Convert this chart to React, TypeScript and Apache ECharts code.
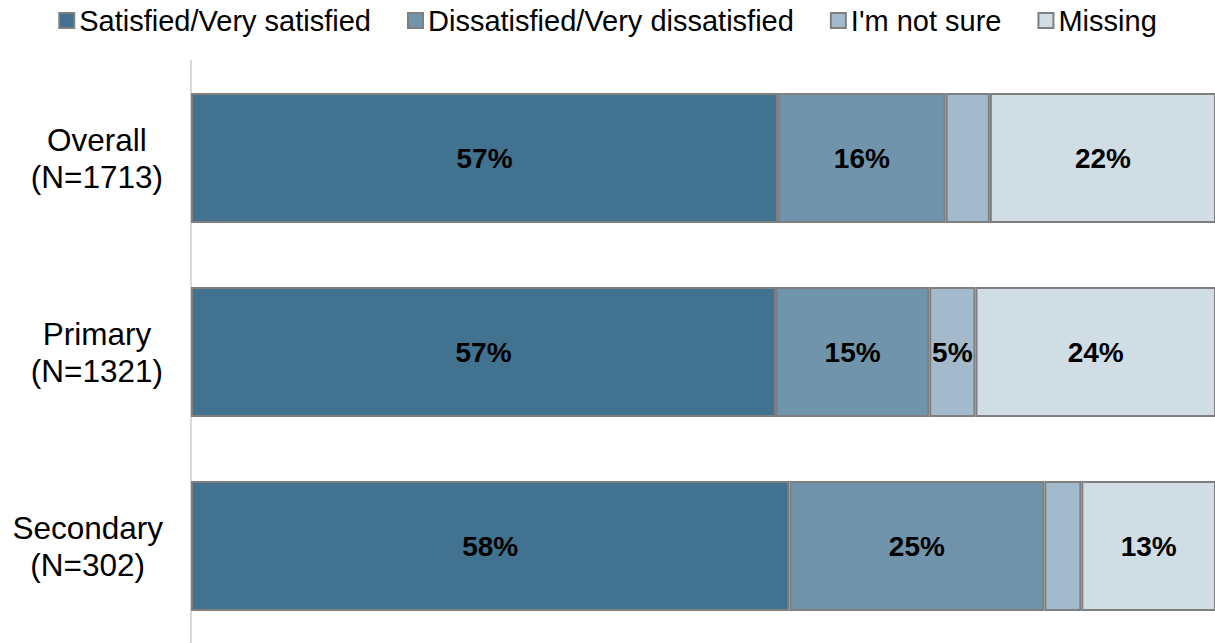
import React, { useEffect, useRef } from "react";
import * as echarts from "echarts";

const categories = ["Overall", "Primary", "Secondary"];
const sampleSizes = [1713, 1321, 302];
const seriesNames = ["Satisfied/Very satisfied", "Dissatisfied/Very dissatisfied", "I'm not sure", "Missing"];
const satisfied = [57.1, 56.9, 58.2];
const dissatisfied = [16.3, 14.9, 24.8];
const notSure = [4.3, 4.5, 3.6];
const missing = [22.3, 23.7, 13.4];
const colors = ["#41728F", "#7094AB", "#A2BACB", "#D0DDE5"];

export default function App() {
  const ref = useRef<HTMLDivElement>(null);
  useEffect(() => {
    if (!ref.current) return;
    const chart = echarts.init(ref.current, null, { renderer: "svg" });
    const font = "Arial, 'Liberation Sans', sans-serif";
    const allData = [satisfied, dissatisfied, notSure, missing];
    chart.setOption({
      animation: false,
      textStyle: { fontFamily: font },
      legend: {
        top: 1,
        left: "center",
        icon: "rect",
        itemWidth: 15,
        itemHeight: 15,
        itemGap: 36,
        textStyle: { fontSize: 29, color: "#000", fontFamily: font },
        data: seriesNames,
      },
      grid: { left: 191, top: 61, right: 0, bottom: -4, containLabel: false },
      xAxis: { type: "value", min: 0, max: 99.6, show: false, splitLine: { show: false } },
      yAxis: {
        type: "category",
        inverse: true,
        data: categories,
        axisLine: { show: true, lineStyle: { color: "#D9D9D9", width: 2 } },
        axisTick: { show: false },
        axisLabel: {
          align: "right",
          margin: 28,
          color: "#000",
          fontSize: 31.5,
          lineHeight: 37,
          fontFamily: font,
          formatter: (v: string) => {
            const i = categories.indexOf(v);
            return `{c|${v}}\n{c|(N=${sampleSizes[i]})}`;
          },
          rich: { c: { align: "center", fontSize: 31.5, lineHeight: 37, color: "#000", fontFamily: font } },
        },
      },
      series: seriesNames.map((name, si) => ({
        name,
        type: "bar",
        stack: "total",
        barWidth: 130,
        data: allData[si],
        itemStyle: { color: colors[si], borderColor: "#7F7F7F", borderWidth: 2 },
        label: {
          show: true,
          position: "inside",
          color: "#000",
          fontWeight: "bold",
          fontSize: 28,
          fontFamily: font,
          formatter: (p: any) => (p.value >= 4.5 ? `${Math.round(p.value)}%` : ""),
        },
      })),
    });
    return () => chart.dispose();
  }, []);
  return (
    <div
      ref={ref}
      style={{ position: "fixed", left: 0, top: 0, width: 1215, height: 643, background: "#fff" }}
    />
  );
}
